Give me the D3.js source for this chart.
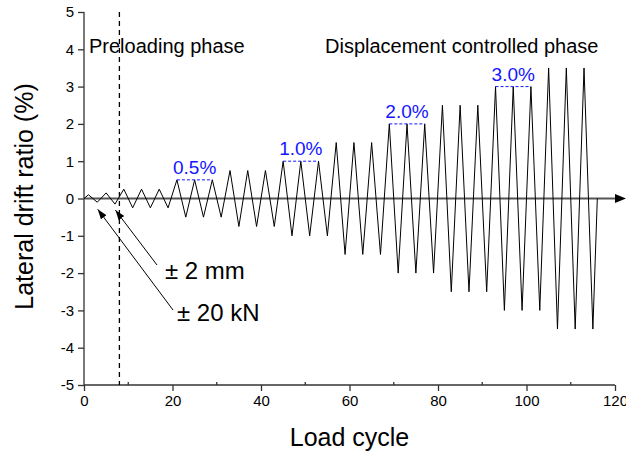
<!DOCTYPE html>
<html>
<head>
<meta charset="utf-8">
<script src="https://cdn.jsdelivr.net/npm/d3@7"></script>
<style>
  body { margin: 0; background: #fff; }
  svg { display: block; font-family: Arial, "Liberation Sans", sans-serif; }
</style>
</head>
<body>
<div id="chart"></div>
<script>
// load protocol: peak / trough points of the cyclic history
var cycle = [0, 1, 3, 5, 7, 9, 11, 13, 15, 17, 19, 21, 23, 25, 27, 29, 31, 33, 35, 37, 39,
             41, 43, 45, 47, 49, 51, 53, 55, 57, 59, 61, 63, 65, 67, 69, 71, 73, 75, 77, 79,
             81, 83, 85, 87, 89, 91, 93, 95, 97, 99, 101, 103, 105, 107, 109, 111, 113, 115, 116];
var drift = [0, 0.1, -0.1, 0.15, -0.15,
             0.25, -0.25, 0.25, -0.25, 0.25, -0.25,
             0.5, -0.5, 0.5, -0.5, 0.5, -0.5,
             0.75, -0.75, 0.75, -0.75, 0.75, -0.75,
             1, -1, 1, -1, 1, -1,
             1.5, -1.5, 1.5, -1.5, 1.5, -1.5,
             2, -2, 2, -2, 2, -2,
             2.5, -2.5, 2.5, -2.5, 2.5, -2.5,
             3, -3, 3, -3, 3, -3,
             3.5, -3.5, 3.5, -3.5, 3.5, -3.5, 0];

// blue level markers
var levelValue = [0.5, 1.0, 2.0, 3.0];
var levelStart = [21, 45, 69, 93];
var levelEnd = [29, 53, 77, 101];
var levelLabel = ["0.5%", "1.0%", "2.0%", "3.0%"];

var xTicks = [0, 20, 40, 60, 80, 100, 120];
var xMinor = [10, 30, 50, 70, 90, 110];
var yTicks = [-5, -4, -3, -2, -1, 0, 1, 2, 3, 4, 5];
var phaseBoundary = 8;

var margin = {top: 12, right: 11, bottom: 70, left: 84},
    width = 626 - margin.left - margin.right,
    height = 455 - margin.top - margin.bottom;

var x = d3.scaleLinear().domain([0, 120]).range([0, width]);
var y = d3.scaleLinear().domain([-5, 5]).range([height, 0]);

var svg = d3.select("#chart").append("svg")
    .attr("width", 626)
    .attr("height", 455)
    .append("g")
    .attr("transform", "translate(" + margin.left + "," + margin.top + ")");

// axes (plain hyphen for negatives, like the original)
var fmt = function(d) { return String(d); };
var xAxis = d3.axisBottom(x).tickValues(xTicks).tickFormat(fmt).tickSize(6).tickPadding(4);
var yAxis = d3.axisLeft(y).tickValues(yTicks).tickFormat(fmt).tickSize(6).tickPadding(4);

var gx = svg.append("g")
    .attr("transform", "translate(0," + height + ")")
    .call(xAxis);
var gy = svg.append("g").call(yAxis);

[gx, gy].forEach(function(g) {
    g.select(".domain").attr("stroke", "#333").attr("stroke-width", 1.3);
    g.selectAll(".tick line").attr("stroke", "#333").attr("stroke-width", 1.3);
    g.selectAll(".tick text").attr("font-size", 15).attr("fill", "#000")
        .style("font-family", "Arial, 'Liberation Sans', sans-serif");
});
gx.select(".domain").attr("d", "M0,0H" + width);
gy.select(".domain").attr("d", "M0," + height + "V0");

gx.selectAll(".minor")
    .data(xMinor)
    .enter().append("line")
    .attr("x1", d => x(d)).attr("x2", d => x(d))
    .attr("y1", 0).attr("y2", -3)
    .attr("stroke", "#333").attr("stroke-width", 1.3);

// zero line with arrow
svg.append("line")
    .attr("x1", x(0)).attr("x2", 626 - margin.left - 8)
    .attr("y1", y(0)).attr("y2", y(0))
    .attr("stroke", "#555").attr("stroke-width", 2);
svg.append("path")
    .attr("d", "M" + (626 - margin.left) + "," + y(0) +
               "l-11,-4.5v9z")
    .attr("fill", "#000");

// phase boundary
svg.append("line")
    .attr("x1", x(phaseBoundary)).attr("x2", x(phaseBoundary))
    .attr("y1", y(5)).attr("y2", y(-5))
    .attr("stroke", "#000").attr("stroke-width", 1.3)
    .attr("stroke-dasharray", "5,4");

// load history
var data = cycle.map(function(c, i) { return {c: c, d: drift[i]}; });
svg.append("path")
    .datum(data)
    .attr("fill", "none")
    .attr("stroke", "#000")
    .attr("stroke-width", 1)
    .attr("d", d3.line().x(d => x(d.c)).y(d => y(d.d)));

// level markers
levelValue.forEach(function(v, i) {
    svg.append("line")
        .attr("x1", x(levelStart[i])).attr("x2", x(levelEnd[i]))
        .attr("y1", y(v)).attr("y2", y(v))
        .attr("stroke", "#1515ff").attr("stroke-width", 1)
        .attr("stroke-dasharray", "3,2");
    svg.append("text")
        .attr("x", x((levelStart[i] + levelEnd[i]) / 2))
        .attr("y", y(v) - 6)
        .attr("text-anchor", "middle")
        .attr("font-size", 19)
        .attr("fill", "#1515ff")
        .text(levelLabel[i]);
});

// phase labels
svg.append("text")
    .attr("x", 5).attr("y", 41)
    .attr("font-size", 20)
    .text("Preloading phase");
svg.append("text")
    .attr("x", 241).attr("y", 41)
    .attr("font-size", 20)
    .text("Displacement controlled phase");

// arrows to the preloading cycles
svg.append("defs").append("marker")
    .attr("id", "head")
    .attr("viewBox", "0 0 10 10")
    .attr("refX", 10).attr("refY", 5)
    .attr("markerWidth", 10).attr("markerHeight", 10)
    .attr("markerUnits", "userSpaceOnUse")
    .attr("orient", "auto")
    .append("path")
    .attr("d", "M0,1.5L10,5L0,8.5z")
    .attr("fill", "#000");

svg.append("line")
    .attr("x1", 157 - margin.left).attr("y1", 265 - margin.top)
    .attr("x2", x(7.1)).attr("y2", y(-0.15) + 6)
    .attr("stroke", "#000").attr("stroke-width", 1)
    .attr("marker-end", "url(#head)");
svg.append("line")
    .attr("x1", 173 - margin.left).attr("y1", 310 - margin.top)
    .attr("x2", x(3.1)).attr("y2", y(-0.1) + 7)
    .attr("stroke", "#000").attr("stroke-width", 1)
    .attr("marker-end", "url(#head)");

svg.append("text")
    .attr("x", 165 - margin.left).attr("y", 279 - margin.top)
    .attr("font-size", 24)
    .text("\u00b1 2 mm");
svg.append("text")
    .attr("x", 177 - margin.left).attr("y", 321 - margin.top)
    .attr("font-size", 24)
    .text("\u00b1 20 kN");

// axis titles
svg.append("text")
    .attr("x", width / 2).attr("y", height + 61)
    .attr("text-anchor", "middle")
    .attr("font-size", 25)
    .text("Load cycle");
svg.append("text")
    .attr("transform", "rotate(-90)")
    .attr("x", -(height / 2) + 2)
    .attr("y", -margin.left + 33)
    .attr("text-anchor", "middle")
    .attr("font-size", 25)
    .text("Lateral drift ratio (%)");
</script>
</body>
</html>
